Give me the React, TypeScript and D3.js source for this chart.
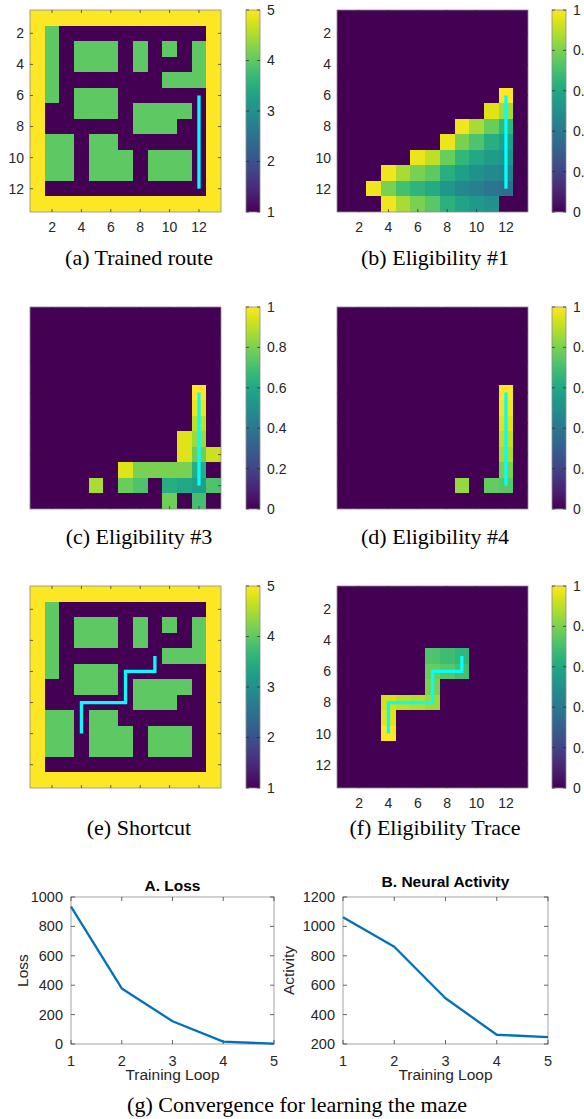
import * as React from 'react';
import * as d3 from 'd3';

// grid size of the maze (13 x 13 cells, 1-based)
const N = 13;
const gridTicks = [2, 4, 6, 8, 10, 12];

// maze map: 5 = outer wall, 4 = obstacle, 1 = free cell
const mazeRows = [
    '5555555555555',
    '5411111111115',
    '5414441414145',
    '5414441411145',
    '5411111114445',
    '5414441111115',
    '5114441444415',
    '5111111444115',
    '5441441111115',
    '5441444144415',
    '5441444144415',
    '5111111111115',
    '5555555555555',
];

// routes as [col, row]
const trainedRoute = [[12, 6], [12, 12]];
const shortcutRoute = [[9, 5], [9, 6], [7, 6], [7, 8], [4, 8], [4, 10]];

// eligibility cells as [col, row, value]; all other cells are 0
const elig1 = [
    [12, 6, 1.0],
    [11, 7, 0.95], [12, 7, 0.86],
    [9, 8, 0.98], [10, 8, 0.87], [11, 8, 0.77], [12, 8, 0.66],
    [8, 9, 0.97], [9, 9, 0.8], [10, 9, 0.72], [11, 9, 0.63], [12, 9, 0.57],
    [6, 10, 0.97], [7, 10, 0.9], [8, 10, 0.77], [9, 10, 0.66], [10, 10, 0.6], [11, 10, 0.55], [12, 10, 0.52],
    [4, 11, 0.98], [5, 11, 0.87], [6, 11, 0.8], [7, 11, 0.75], [8, 11, 0.63], [9, 11, 0.56], [10, 11, 0.51], [11, 11, 0.47], [12, 11, 0.45],
    [3, 12, 0.98], [4, 12, 0.8], [5, 12, 0.7], [6, 12, 0.65], [7, 12, 0.61], [8, 12, 0.53], [9, 12, 0.47], [10, 12, 0.43], [11, 12, 0.39], [12, 12, 0.36],
    [4, 13, 0.98], [5, 13, 0.87], [6, 13, 0.8], [7, 13, 0.74], [8, 13, 0.64], [9, 13, 0.58], [10, 13, 0.54], [11, 13, 0.5],
];
const elig3 = [
    [12, 6, 1.0], [12, 7, 0.97], [12, 8, 0.9],
    [11, 9, 0.95], [12, 9, 0.85],
    [11, 10, 0.95], [12, 10, 0.78], [13, 10, 0.92],
    [7, 11, 0.95], [8, 11, 0.8], [9, 11, 0.8], [10, 11, 0.8], [11, 11, 0.8], [12, 11, 0.62],
    [5, 12, 0.87], [7, 12, 0.77], [8, 12, 0.72], [10, 12, 0.62], [11, 12, 0.6], [12, 12, 0.56], [13, 12, 0.72],
    [10, 13, 0.78], [12, 13, 0.7],
];
const elig4 = [
    [12, 6, 1.0], [12, 7, 0.98], [12, 8, 0.95], [12, 9, 0.91], [12, 10, 0.87], [12, 11, 0.8], [12, 12, 0.74],
    [9, 12, 0.84], [11, 12, 0.76],
];
const eligTrace = [
    [7, 5, 0.72], [8, 5, 0.69], [9, 5, 0.66],
    [7, 6, 0.77], [8, 6, 0.74], [9, 6, 0.7],
    [7, 7, 0.8],
    [4, 8, 0.93], [5, 8, 0.9], [6, 8, 0.88], [7, 8, 0.85],
    [4, 9, 0.96],
    [4, 10, 1.0],
];

const mazeBarTicks = [1, 2, 3, 4, 5];
const eligBarTicks = [0, 0.2, 0.4, 0.6, 0.8, 1];

// convergence curves
const loops = [1, 2, 3, 4, 5];
const lossValues = [935, 378, 155, 16, 2];
const activityValues = [1062, 862, 511, 263, 247];
const lossTicks = [0, 200, 400, 600, 800, 1000];
const activityTicks = [200, 400, 600, 800, 1000, 1200];

const sans = '"Liberation Sans", Arial, Helvetica, sans-serif';
const serif = '"Liberation Serif", "Times New Roman", serif';
const axisGray = '#8c8c8c';
const textCol = '#262626';

const W = 191;
const H = 202;
const barW = 14;

const mazeCells = mazeRows.flatMap((r, ri) => r.split('').map((ch, ci) => [ci + 1, ri + 1, +ch]));
const fullGrid = (cells: number[][]) => {
    const g: number[][] = [];
    for (let r = 1; r <= N; r++) for (let c = 1; c <= N; c++) g.push([c, r, 0]);
    cells.forEach(([c, r, v]) => { g[(r - 1) * N + (c - 1)][2] = v; });
    return g;
};

interface HeatProps {
    id: string;
    x: number;
    y: number;
    barX: number;
    cells: number[][];
    domain: [number, number];
    barTicks: number[];
    route: number[][];
    labels: boolean;
}

const Heatmap = (p: HeatProps) => {
    const xs = d3.scaleLinear().domain([0.5, N + 0.5]).range([p.x, p.x + W]);
    const ys = d3.scaleLinear().domain([0.5, N + 0.5]).range([p.y, p.y + H]);
    const norm = d3.scaleLinear().domain(p.domain).range([0, 1]);
    const color = (v: number) => d3.interpolateViridis(norm(v));
    const bar = d3.scaleLinear().domain(p.domain).range([p.y + H, p.y]);
    const line = d3.line<number[]>().x(d => xs(d[0])).y(d => ys(d[1]));
    const fmt = (t: number) => (t === 0 || t === 1 || t > 1 ? String(t) : t.toFixed(1));
    const stops = d3.range(0, 1.0001, 0.05);
    return (
        <g>
            <defs>
                <linearGradient id={p.id} x1="0" y1="1" x2="0" y2="0">
                    {stops.map(s => <stop key={s} offset={s} stopColor={d3.interpolateViridis(s)} />)}
                </linearGradient>
            </defs>
            <g shapeRendering="crispEdges">
                {p.cells.map(([c, r, v]) => (
                    <rect key={`${c}-${r}`} x={xs(c - 0.5)} y={ys(r - 0.5)}
                        width={xs(c + 0.5) - xs(c - 0.5) + 0.4} height={ys(r + 0.5) - ys(r - 0.5) + 0.4}
                        fill={color(v)} />
                ))}
            </g>
            <path d={line(p.route) || ''} fill="none" stroke="#00ffff" strokeWidth={3.3} strokeLinejoin="miter" />
            <rect x={p.x} y={p.y} width={W} height={H} fill="none" stroke={axisGray} strokeWidth={0.8} />
            {gridTicks.map(t => (
                <g key={t} stroke={textCol} strokeWidth={0.7}>
                    <line x1={xs(t)} x2={xs(t)} y1={p.y + H} y2={p.y + H - 3} />
                    <line x1={xs(t)} x2={xs(t)} y1={p.y} y2={p.y + 3} />
                    <line y1={ys(t)} y2={ys(t)} x1={p.x} x2={p.x + 3} />
                    <line y1={ys(t)} y2={ys(t)} x1={p.x + W} x2={p.x + W - 3} />
                </g>
            ))}
            {p.labels && gridTicks.map(t => (
                <g key={'l' + t} fontFamily={sans} fontSize={14} fill={textCol}>
                    <text x={xs(t)} y={p.y + H + 20} textAnchor="middle">{t}</text>
                    <text x={p.x - 6} y={ys(t)} dy="0.35em" textAnchor="end">{t}</text>
                </g>
            ))}
            <rect x={p.barX} y={p.y} width={barW} height={H} fill={`url(#${p.id})`} stroke={axisGray} strokeWidth={0.8} />
            {p.barTicks.map(t => (
                <g key={'b' + t}>
                    <line x1={p.barX} x2={p.barX + 3} y1={bar(t)} y2={bar(t)} stroke={textCol} strokeWidth={0.7} />
                    <line x1={p.barX + barW} x2={p.barX + barW - 3} y1={bar(t)} y2={bar(t)} stroke={textCol} strokeWidth={0.7} />
                    <text x={p.barX + barW + 7} y={bar(t)} dy="0.35em" fontFamily={sans} fontSize={14} fill={textCol}>{fmt(t)}</text>
                </g>
            ))}
        </g>
    );
};

interface LineProps {
    x: number;
    y: number;
    w: number;
    h: number;
    values: number[];
    yTicks: number[];
    title: string;
    titleY: number;
    ylabel: string;
    ylabelX: number;
}

const LineChart = (p: LineProps) => {
    const xs = d3.scaleLinear().domain([1, 5]).range([p.x, p.x + p.w]);
    const ys = d3.scaleLinear().domain([p.yTicks[0], p.yTicks[p.yTicks.length - 1]]).range([p.y + p.h, p.y]);
    const line = d3.line<number>().x((d, i) => xs(loops[i])).y(d => ys(d));
    return (
        <g fontFamily={sans} fill={textCol}>
            <rect x={p.x} y={p.y} width={p.w} height={p.h} fill="none" stroke={axisGray} strokeWidth={0.8} />
            {loops.map(t => (
                <g key={t}>
                    <line x1={xs(t)} x2={xs(t)} y1={p.y + p.h} y2={p.y + p.h - 4} stroke={textCol} strokeWidth={0.7} />
                    <line x1={xs(t)} x2={xs(t)} y1={p.y} y2={p.y + 4} stroke={textCol} strokeWidth={0.7} />
                    <text x={xs(t)} y={p.y + p.h + 22} textAnchor="middle" fontSize={14.5}>{t}</text>
                </g>
            ))}
            {p.yTicks.map(t => (
                <g key={t}>
                    <line x1={p.x} x2={p.x + 4} y1={ys(t)} y2={ys(t)} stroke={textCol} strokeWidth={0.7} />
                    <line x1={p.x + p.w} x2={p.x + p.w - 4} y1={ys(t)} y2={ys(t)} stroke={textCol} strokeWidth={0.7} />
                    <text x={p.x - 8} y={ys(t)} dy="0.35em" textAnchor="end" fontSize={14.5}>{t}</text>
                </g>
            ))}
            <path d={line(p.values) || ''} fill="none" stroke="#0072bd" strokeWidth={2.3} strokeLinejoin="round" />
            <text x={p.x + p.w / 2} y={p.titleY} textAnchor="middle" fontSize={15.5} fontWeight="bold" fill="#000">{p.title}</text>
            <text x={p.x + p.w / 2} y={p.y + p.h + 36} textAnchor="middle" fontSize={15.5}>Training Loop</text>
            <text transform={`translate(${p.ylabelX},${p.y + p.h / 2}) rotate(-90)`} textAnchor="middle" fontSize={15.5}>{p.ylabel}</text>
        </g>
    );
};

const captions = [
    { text: '(a) Trained route', x: 139, y: 265 },
    { text: '(b) Eligibility #1', x: 435, y: 265 },
    { text: '(c) Eligibility #3', x: 139, y: 544 },
    { text: '(d) Eligibility #4', x: 435, y: 544 },
    { text: '(e) Shortcut', x: 139, y: 835 },
    { text: '(f) Eligibility Trace', x: 435, y: 835 },
    { text: '(g) Convergence for learning the maze', x: 297, y: 1112 },
];

const App = () => {
    const leftX = 30;
    const rightX = 337;
    const leftBar = 246;
    const rightBar = 552;
    return (
        <svg width={584} height={1119} style={{ position: 'absolute', left: 0, top: 0, background: '#fff' }}>
            <Heatmap id="ga" x={leftX} y={10} barX={leftBar} cells={mazeCells} domain={[1, 5]} barTicks={mazeBarTicks} route={trainedRoute} labels={true} />
            <Heatmap id="gb" x={rightX} y={10} barX={rightBar} cells={fullGrid(elig1)} domain={[0, 1]} barTicks={eligBarTicks} route={trainedRoute} labels={true} />
            <Heatmap id="gc" x={leftX} y={307} barX={leftBar} cells={fullGrid(elig3)} domain={[0, 1]} barTicks={eligBarTicks} route={trainedRoute} labels={false} />
            <Heatmap id="gd" x={rightX} y={307} barX={rightBar} cells={fullGrid(elig4)} domain={[0, 1]} barTicks={eligBarTicks} route={trainedRoute} labels={false} />
            <Heatmap id="ge" x={leftX} y={586} barX={leftBar} cells={mazeCells} domain={[1, 5]} barTicks={mazeBarTicks} route={shortcutRoute} labels={false} />
            <Heatmap id="gf" x={rightX} y={586} barX={rightBar} cells={fullGrid(eligTrace)} domain={[0, 1]} barTicks={eligBarTicks} route={shortcutRoute} labels={true} />
            <LineChart x={71} y={897} w={203} h={147} values={lossValues} yTicks={lossTicks} title="A. Loss" titleY={891} ylabel="Loss" ylabelX={28} />
            <LineChart x={343} y={897} w={205} h={147} values={activityValues} yTicks={activityTicks} title="B. Neural Activity" titleY={887} ylabel="Activity" ylabelX={294} />
            {captions.map(c => (
                <text key={c.text} x={c.x} y={c.y} textAnchor="middle" fontFamily={serif} fontSize={22} fill="#000">{c.text}</text>
            ))}
        </svg>
    );
};

export default App;
